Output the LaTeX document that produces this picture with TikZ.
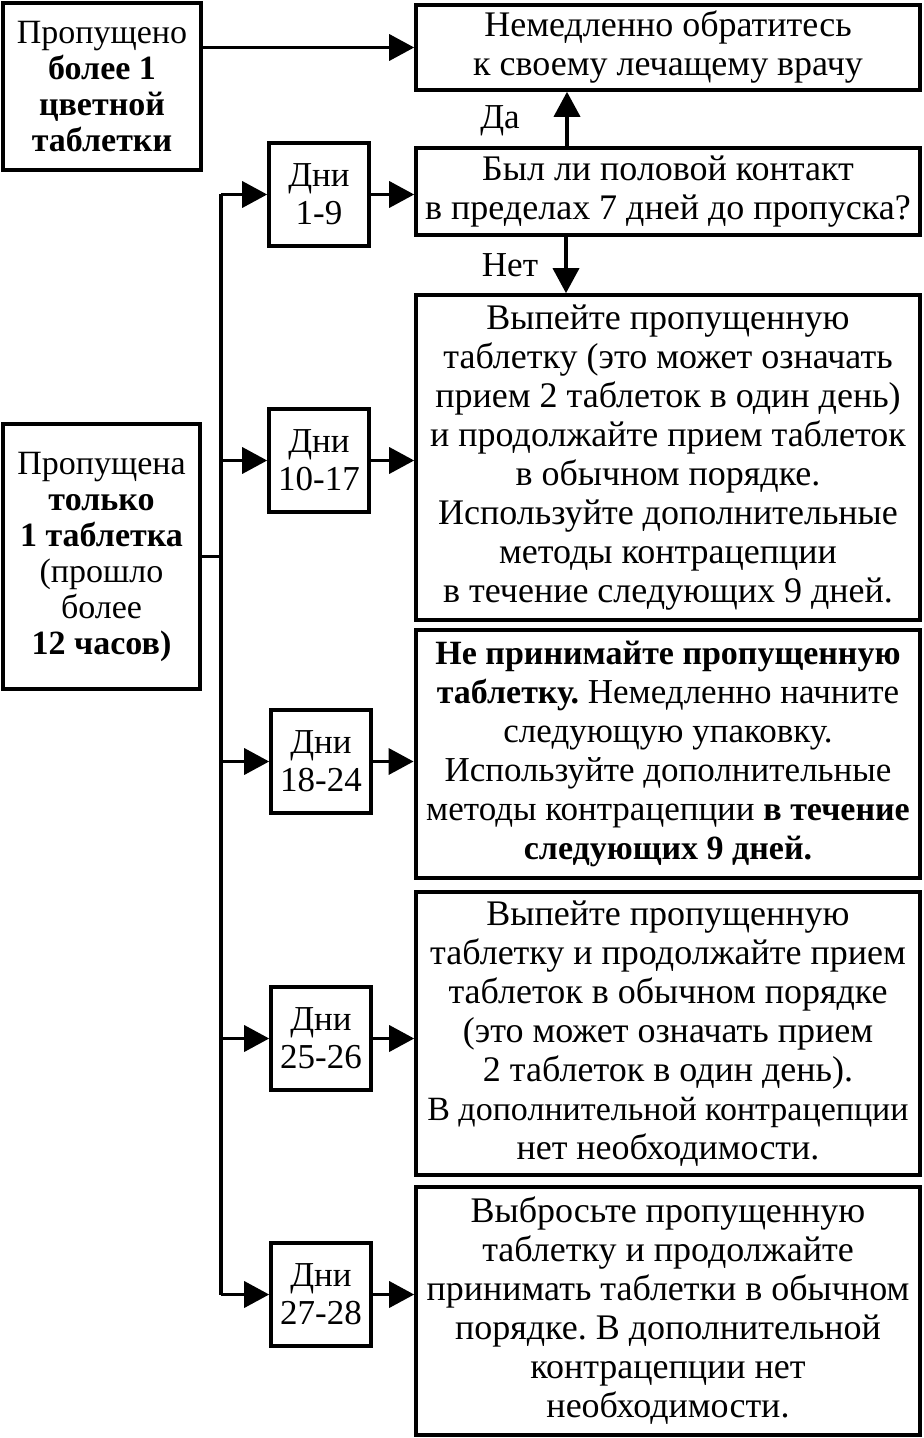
\documentclass[tikz,border=0pt]{standalone}
\usepackage{fontspec}
\setmainfont{Liberation Serif}
\usepackage{tikz}
\usetikzlibrary{arrows.meta,calc}
\frenchspacing

% bold parts are set a little narrower, as in the printed scheme
\newcommand\tb[1]{{\fontsize{17}{19}\selectfont\bfseries #1}}

\tikzset{
    box/.style={draw, line width=1.8pt, align=center, inner sep=2pt,
        minimum width=252pt, font=\fontsize{18}{19.5}\selectfont},
    sidebox/.style={box, font=\fontsize{17}{18}\selectfont},
    daybox/.style={draw, line width=1.8pt, align=center, inner sep=2pt,
        minimum width=50pt, minimum height=51.5pt, font=\fontsize{17.5}{19}\selectfont},
    arr/.style={line width=1.8pt, -{Triangle[length=12.5pt,width=13pt]}},
    lbl/.style={font=\fontsize{17.5}{19}\selectfont, inner sep=0pt}
}

\begin{document}
\begin{tikzpicture}[x=1pt, y=1pt]
    \useasboundingbox (0,0) rectangle (461.5,-719);
    % left column
    \node [sidebox, minimum width=99pt, minimum height=83.5pt] (more) at (51,-43.25)
        {Пропущено\\\textbf{более 1}\\\textbf{цветной}\\\textbf{таблетки}};
    \node [sidebox, minimum width=98.5pt, minimum height=132.5pt] (main) at (50.75,-278.25)
        {Пропущена\\\textbf{только}\\\textbf{1 таблетка}\\(прошло\\более\\\textbf{12 часов)}};
    % days
    \node [daybox] (d1) at (159.5,-97.25) {Дни\\1-9};
    \node [daybox] (d2) at (159.5,-230.25) {Дни\\10-17};
    \node [daybox] (d3) at (160.5,-380.75) {Дни\\18-24};
    \node [daybox] (d4) at (160.5,-519.25) {Дни\\25-26};
    \node [daybox] (d5) at (160.5,-647.25) {Дни\\27-28};
    % right column
    \node [box, minimum height=42.5pt] (doc) at (334,-23.75)
        {Немедленно обратитесь\\к своему лечащему врачу};
    \node [box, minimum height=43.5pt] (ask) at (334,-95.75)
        {Был ли половой контакт\\в пределах 7 дней до пропуска?};
    \node [box, minimum height=162.5pt] (b1) at (334,-228.75)
        {Выпейте пропущенную\\таблетку (это может означать\\прием 2 таблеток в один день)\\и продолжайте прием таблеток\\в обычном порядке.\\Используйте дополнительные\\методы контрацепции\\в течение следующих 9 дней.};
    \node [box, line width=2.4pt, minimum height=124pt, font=\fontsize{17.5}{19.5}\selectfont] (b2) at (334,-377)
        {\tb{Не принимайте пропущенную}\\\tb{таблетку.} Немедленно начните\\следующую упаковку.\\Используйте дополнительные\\методы контрацепции \tb{в течение}\\\tb{следующих 9 дней.}};
    \node [box, minimum height=141.5pt] (b3) at (334,-516.75)
        {Выпейте пропущенную\\таблетку и продолжайте прием\\таблеток в обычном порядке\\(это может означать прием\\2 таблеток в один день).\\{\fontsize{17}{19.5}\selectfont В дополнительной контрацепции}\\нет необходимости.};
    \node [box, minimum height=124pt] (b4) at (334,-655.5)
        {Выбросьте пропущенную\\таблетку и продолжайте\\принимать таблетки в обычном\\порядке. В дополнительной\\контрацепции нет\\необходимости.};
    \node [lbl] (yes) at (250,-60.5) {Да};
    \node [lbl] (no) at (255,-132.5) {Нет};

    \coordinate (tr) at (110.5,0);
    \draw [line width=1.8pt] (d1 -| tr) -- (d5 -| tr);
    \draw [line width=1.8pt] (main.east) -- (main.east -| tr);
    \foreach \d in {d1,d2,d3,d4,d5}
        \draw [arr] (\d -| tr) -- (\d);
    \draw [arr] (more.east |- doc.west) -- (doc.west);
    \draw [arr] (d1.east) -- (d1.east -| ask.west);
    \draw [arr] (d2.east) -- (d2.east -| b1.west);
    \draw [arr] (d3.east) -- (d3.east -| b2.west);
    \draw [arr] (d4.east) -- (d4.east -| b3.west);
    \draw [arr] (d5.east) -- (d5.east -| b4.west);
    \draw [arr] ([xshift=-50.5pt]ask.north) -- ([xshift=-50.5pt]doc.south);
    \draw [arr] ([xshift=-51pt]ask.south) -- ([xshift=-51pt]b1.north);
\end{tikzpicture}
\end{document}
